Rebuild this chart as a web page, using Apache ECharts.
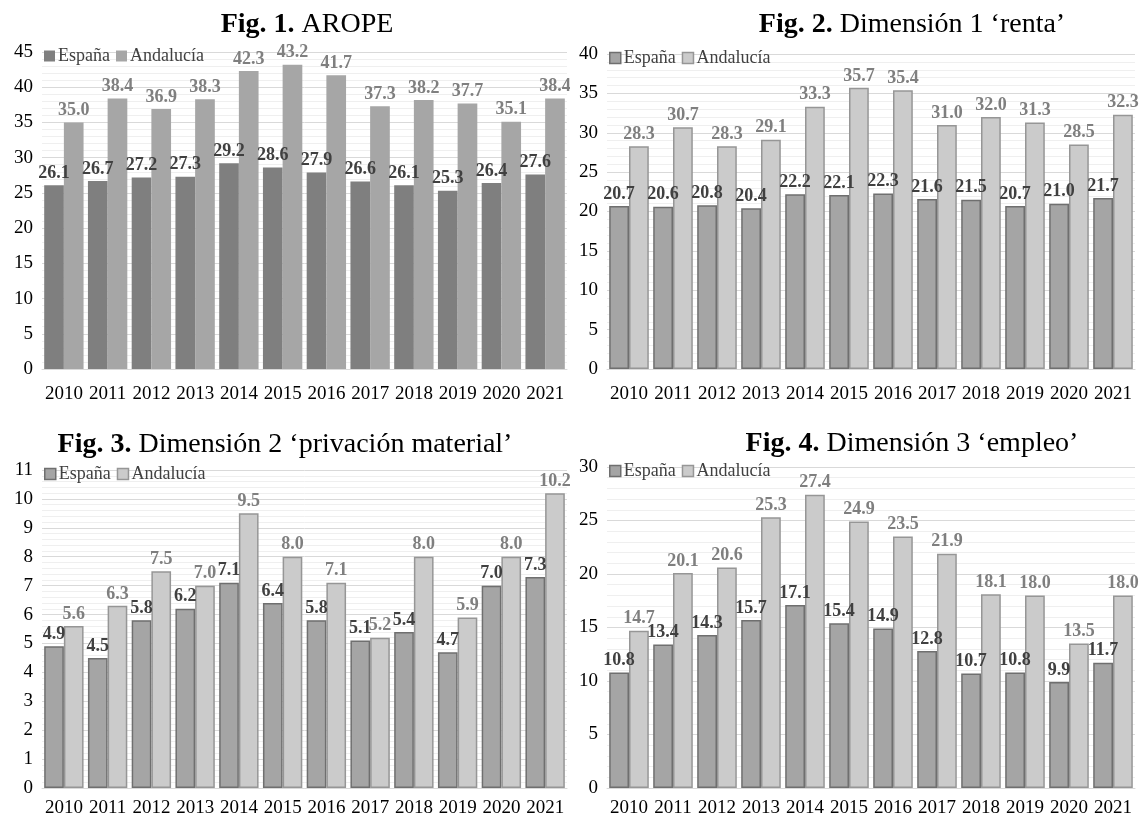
<!DOCTYPE html>
<html>
<head>
<meta charset="utf-8">
<script src="https://cdn.jsdelivr.net/npm/echarts@6/dist/echarts.min.js"></script>
<style>
  html, body { margin: 0; padding: 0; background: #fff; }
  .panel { position: absolute; }
</style>
</head>
<body>
<div id="p1" class="panel" style="left:0;top:0;width:570px;height:410px"></div>
<div id="p2" class="panel" style="left:570px;top:0;width:569px;height:410px"></div>
<div id="p3" class="panel" style="left:0;top:410px;width:570px;height:409px"></div>
<div id="p4" class="panel" style="left:570px;top:410px;width:569px;height:409px"></div>
<script>
// Años comunes a las cuatro figuras
const years = ['2010','2011','2012','2013','2014','2015','2016','2017','2018','2019','2020','2021'];

// Fig. 1. AROPE
const aropeEspana    = [26.1, 26.7, 27.2, 27.3, 29.2, 28.6, 27.9, 26.6, 26.1, 25.3, 26.4, 27.6];
const aropeAndalucia = [35.0, 38.4, 36.9, 38.3, 42.3, 43.2, 41.7, 37.3, 38.2, 37.7, 35.1, 38.4];

// Fig. 2. Dimensión 1 'renta'
const rentaEspana    = [20.7, 20.6, 20.8, 20.4, 22.2, 22.1, 22.3, 21.6, 21.5, 20.7, 21.0, 21.7];
const rentaAndalucia = [28.3, 30.7, 28.3, 29.1, 33.3, 35.7, 35.4, 31.0, 32.0, 31.3, 28.5, 32.3];

// Fig. 3. Dimensión 2 'privación material'
const privEspana    = [4.9, 4.5, 5.8, 6.2, 7.1, 6.4, 5.8, 5.1, 5.4, 4.7, 7.0, 7.3];
const privAndalucia = [5.6, 6.3, 7.5, 7.0, 9.5, 8.0, 7.1, 5.2, 8.0, 5.9, 8.0, 10.2];

// Fig. 4. Dimensión 3 'empleo'
const empleoEspana    = [10.8, 13.4, 14.3, 15.7, 17.1, 15.4, 14.9, 12.8, 10.7, 10.8, 9.9, 11.7];
const empleoAndalucia = [14.7, 20.1, 20.6, 25.3, 27.4, 24.9, 23.5, 21.9, 18.1, 18.0, 13.5, 18.0];

const SERIF = '"Liberation Serif", "DejaVu Serif", serif';

function buildOption(cfg) {
  const labelStyle = (color) => ({
    show: true,
    position: 'top',
    distance: 3,
    formatter: (p) => p.value.toFixed(1),
    fontFamily: SERIF,
    fontWeight: 'bold',
    fontSize: 18,
    color: color
  });
  return {
    animation: false,
    graphic: [{
      type: 'text',
      x: cfg.titleX,
      y: cfg.titleY,
      z: 10,
      style: {
        text: '{b|' + cfg.figNo + '}{n| ' + cfg.titleText + '}',
        align: 'center',
        verticalAlign: 'middle',
        fontFamily: SERIF,
        fontSize: 28,
        fill: '#000',
        rich: {
          b: { fontFamily: SERIF, fontWeight: 'bold', fontSize: 28, fill: '#000' },
          n: { fontFamily: SERIF, fontWeight: 'normal', fontSize: 28, fill: '#000' }
        }
      }
    }],
    legend: {
      left: cfg.grid.left - 3,
      top: cfg.grid.top - 10,
      itemWidth: 11,
      itemHeight: 11,
      itemGap: 6,
      icon: 'rect',
      textStyle: { fontFamily: SERIF, fontSize: 18, color: '#404040', padding: [0, 0, 0, -2] },
      data: [
        { name: 'España', itemStyle: cfg.esStyle },
        { name: 'Andalucía', itemStyle: cfg.anStyle }
      ]
    },
    grid: cfg.grid,
    xAxis: {
      type: 'category',
      data: years,
      axisTick: { show: false },
      axisLine: { lineStyle: { color: '#d9d9d9', width: 1 } },
      axisLabel: { interval: 0, fontFamily: SERIF, fontSize: 19, color: '#000', margin: cfg.xMargin }
    },
    yAxis: {
      type: 'value',
      min: 0,
      max: cfg.max,
      interval: cfg.interval,
      axisLine: { show: false },
      axisTick: { show: false },
      axisLabel: { fontFamily: SERIF, fontSize: 19, color: '#000', margin: 9 },
      splitLine: { lineStyle: { color: '#d9d9d9', width: 1 } },
      minorTick: { show: false, splitNumber: 5 },
      minorSplitLine: { show: true, lineStyle: { color: '#efefef', width: 1 } }
    },
    series: [
      {
        name: 'España',
        type: 'bar',
        data: cfg.es,
        barGap: '0%',
        barCategoryGap: '10%',
        itemStyle: cfg.esStyle,
        label: labelStyle(cfg.esLabel)
      },
      {
        name: 'Andalucía',
        type: 'bar',
        data: cfg.an,
        barGap: '0%',
        barCategoryGap: '10%',
        itemStyle: cfg.anStyle,
        label: labelStyle(cfg.anLabel)
      }
    ]
  };
}

const flatEs = { color: '#7f7f7f', borderWidth: 0 };
const flatAn = { color: '#a6a6a6', borderWidth: 0 };
const boxEs = { color: '#a5a5a5', borderColor: '#6f6f6f', borderWidth: 1.5 };
const boxAn = { color: '#cbcbcb', borderColor: '#969696', borderWidth: 1.5 };

const panels = [
  { id: 'p1', figNo: 'Fig. 1.', titleText: 'AROPE', titleX: 307, titleY: 25,
    grid: { left: 42, top: 52, right: 3, bottom: 41 }, max: 45, interval: 5, xMargin: 16,
    es: aropeEspana, an: aropeAndalucia, esStyle: flatEs, anStyle: flatAn,
    esLabel: '#404040', anLabel: '#7f7f7f' },
  { id: 'p2', figNo: 'Fig. 2.', titleText: 'Dimensión 1 ‘renta’', titleX: 342, titleY: 25,
    grid: { left: 37, top: 54, right: 4, bottom: 41 }, max: 40, interval: 5, xMargin: 16,
    es: rentaEspana, an: rentaAndalucia, esStyle: boxEs, anStyle: boxAn,
    esLabel: '#404040', anLabel: '#7f7f7f' },
  { id: 'p3', figNo: 'Fig. 3.', titleText: 'Dimensión 2 ‘privación material’', titleX: 285, titleY: 35,
    grid: { left: 42, top: 60, right: 3, bottom: 31 }, max: 11, interval: 1, xMargin: 11,
    es: privEspana, an: privAndalucia, esStyle: boxEs, anStyle: boxAn,
    esLabel: '#404040', anLabel: '#7f7f7f' },
  { id: 'p4', figNo: 'Fig. 4.', titleText: 'Dimensión 3 ‘empleo’', titleX: 342, titleY: 34,
    grid: { left: 37, top: 57, right: 4, bottom: 31 }, max: 30, interval: 5, xMargin: 11,
    es: empleoEspana, an: empleoAndalucia, esStyle: boxEs, anStyle: boxAn,
    esLabel: '#404040', anLabel: '#7f7f7f' }
];

panels.forEach((cfg) => {
  const chart = echarts.init(document.getElementById(cfg.id), null, { renderer: 'canvas' });
  chart.setOption(buildOption(cfg));
});
</script>
</body>
</html>
